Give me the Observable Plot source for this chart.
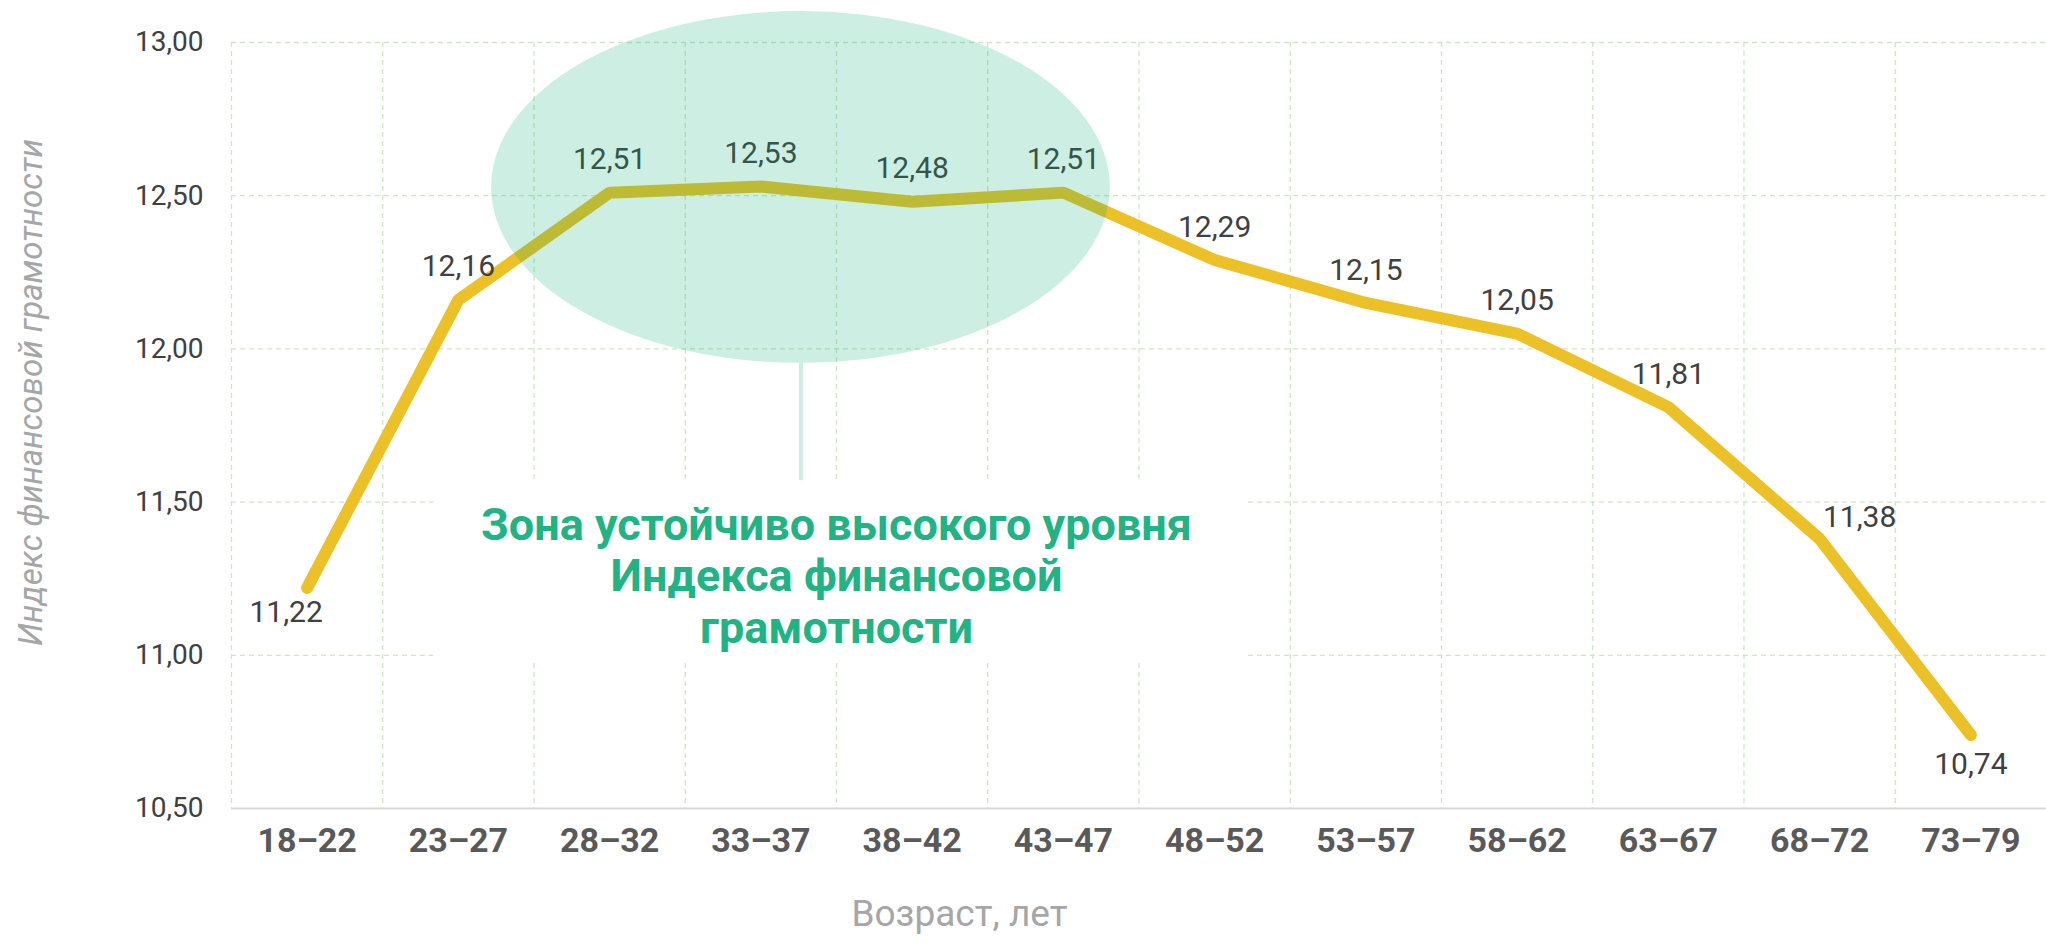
<!DOCTYPE html>
<html>
<head>
<meta charset="utf-8">
<script src="https://cdn.jsdelivr.net/npm/d3@7"></script>
<script src="https://cdn.jsdelivr.net/npm/@observablehq/plot@0.6"></script>
<style>
  html, body { margin: 0; padding: 0; background: #fff; overflow: hidden; }
  #chart svg { display: block; }
</style>
</head>
<body>
<div id="chart"></div>
<script>
// ---- data ----
const ages = ["18–22", "23–27", "28–32", "33–37", "38–42", "43–47", "48–52", "53–57", "58–62", "63–67", "68–72", "73–79"];
const indexValues = [11.22, 12.16, 12.51, 12.53, 12.48, 12.51, 12.29, 12.15, 12.05, 11.81, 11.38, 10.74];
const yTicks = [10.5, 11, 11.5, 12, 12.5, 13];
const yTitle = "Индекс финансовой грамотности";
const xTitle = "Возраст, лет";
const zoneLines = ["Зона устойчиво высокого уровня", "Индекса финансовой", "грамотности"];

// annotation geometry (in data units: category index / index value)
const zoneEllipse = {cx: 3.265, cy: 12.527, rx: 2.045, ry: 0.574};
const zoneBox = {x1: 0.836, x2: 6.198, y1: 10.983, y2: 11.57};
const zoneText = {x: 3.5, y: 11.262};

const rows = ages.map((age, i) => ({age, i, value: indexValues[i]}));
const fmt = v => v.toFixed(2).replace(".", ",");

const gridStyle = {stroke: "#d0e6c2", strokeWidth: 1.3, strokeDasharray: "5,4"};
const labelStyle = {text: d => fmt(d.value), fill: "#404040", fontSize: 30};

const ellipseMark = (index, scales) => {
  const el = document.createElementNS("http://www.w3.org/2000/svg", "ellipse");
  const cx = scales.x(zoneEllipse.cx), cy = scales.y(zoneEllipse.cy);
  el.setAttribute("cx", cx);
  el.setAttribute("cy", cy);
  el.setAttribute("rx", scales.x(zoneEllipse.cx + zoneEllipse.rx) - cx);
  el.setAttribute("ry", cy - scales.y(zoneEllipse.cy + zoneEllipse.ry));
  el.setAttribute("fill", "#06a974");
  el.setAttribute("fill-opacity", 0.2);
  return el;
};

const chart = Plot.plot({
  width: 2046,
  height: 946,
  marginTop: 42,
  marginBottom: 138,
  marginLeft: 231,
  marginRight: 0,
  style: {fontFamily: "Roboto, 'Open Sans', sans-serif", background: "#fff", overflow: "visible"},
  x: {type: "linear", domain: [-0.5, ages.length - 0.5], axis: null},
  y: {domain: [10.5, 13], axis: null},
  marks: [
    Plot.ruleY(yTicks.filter(t => t > 10.5), {y: d => d, ...gridStyle}),
    Plot.ruleX(ages, {x: (d, i) => i - 0.5, ...gridStyle}),
    Plot.ruleY([10.5], {y: d => d, stroke: "#d9d9d9", strokeWidth: 2}),
    // annotation box + text
    Plot.rect([zoneBox], {x1: "x1", x2: "x2", y1: "y1", y2: "y2", fill: "#fff"}),
    Plot.text([zoneText], {x: "x", y: "y", text: () => zoneLines.join("\n"), fontSize: 45, fontWeight: "bold", fill: "#21b384", lineHeight: 1.14}),
    Plot.ruleX([zoneEllipse], {x: "cx", y1: d => d.cy - d.ry, y2: () => zoneBox.y2, stroke: "#cdeee3", strokeWidth: 4}),
    // data line
    Plot.line(rows, {x: "i", y: "value", stroke: "#ecc027", strokeWidth: 12, strokeLinecap: "round", strokeLinejoin: "miter"}),
    // data labels
    Plot.text(rows.filter(d => !["18–22", "68–72", "73–79"].includes(d.age)), {x: "i", y: "value", dy: -33, ...labelStyle}),
    Plot.text(rows.filter(d => d.age === "18–22"), {x: "i", y: "value", dx: -21, dy: 24, ...labelStyle}),
    Plot.text(rows.filter(d => d.age === "68–72"), {x: "i", y: "value", dx: 40, dy: -21, ...labelStyle}),
    Plot.text(rows.filter(d => d.age === "73–79"), {x: "i", y: "value", dy: 29, ...labelStyle}),
    // highlight ellipse on top
    ellipseMark,
    // axes
    Plot.text(ages, {x: (d, i) => i, frameAnchor: "bottom", dy: 43, text: d => d, fontSize: 34, fontWeight: "bold", fill: "#595959"}),
    Plot.text(yTicks, {y: d => d, frameAnchor: "left", dx: -28, textAnchor: "end", text: d => fmt(d), fontSize: 28, fill: "#404040"}),
    Plot.text([yTitle], {frameAnchor: "left", dx: -200, dy: -33, rotate: -90, textAnchor: "middle", text: d => d, fontSize: 33, fontStyle: "italic", fill: "#a6a6a6"}),
    Plot.text([xTitle], {frameAnchor: "bottom-left", dx: 728, dy: 117, textAnchor: "middle", text: d => d, fontSize: 37, fill: "#a6a6a6"})
  ]
});
document.getElementById("chart").appendChild(chart);
</script>
</body>
</html>
